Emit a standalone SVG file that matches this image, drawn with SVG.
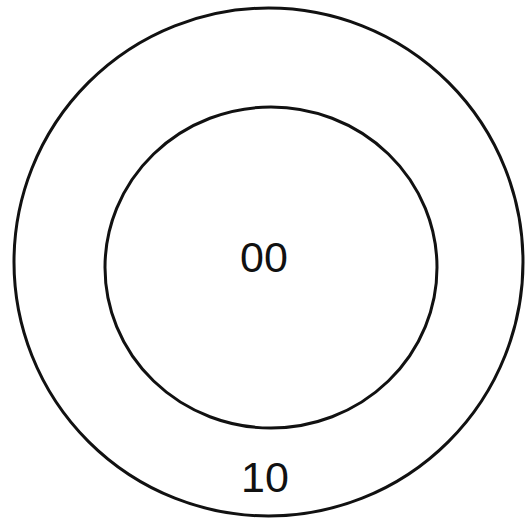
<svg xmlns="http://www.w3.org/2000/svg" width="530" height="522" viewBox="0 0 530 522">
<style>
.ring{fill:none;stroke:#111;stroke-width:3}
.lbl{font-family:"Liberation Sans",Arial,sans-serif;font-size:43px;fill:#111;text-anchor:middle}
</style>
<rect width="530" height="522" fill="#fff"/>
<g id="outer">
<ellipse class="ring" cx="268.5" cy="262" rx="254.5" ry="254"/>
<text class="lbl" x="265" y="492">10</text>
</g>
<g id="inner">
<ellipse class="ring" cx="271" cy="267.5" rx="166" ry="160.5"/>
<text class="lbl" x="264" y="272">00</text>
</g>
<g id="connectors"/>
</svg>
